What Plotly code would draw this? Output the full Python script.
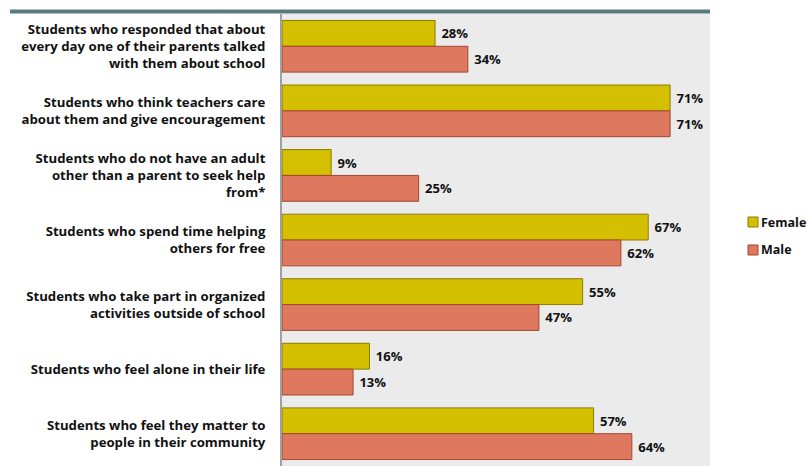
import plotly.graph_objects as go

categories = [
    "Students who responded that about<br>every day one of their parents talked<br>with them about school",
    "Students who think teachers care<br>about them and give encouragement",
    "Students who do not have an adult<br>other than a parent to seek help<br>from*",
    "Students who spend time helping<br>others for free",
    "Students who take part in organized<br>activities outside of school",
    "Students who feel alone in their life",
    "Students who feel they matter to<br>people in their community",
]
female = [28, 71, 9, 67, 55, 16, 57]
male = [34, 71, 25, 62, 47, 13, 64]
series_names = ["Female", "Male"]
fill_colors = ["#D4BF00", "#DE785E"]
edge_colors = ["#8C7D00", "#A4462F"]

FONT = "Open Sans"
W, H = 807, 466
ML, MR, MT, MB = 282, 97, 14, 0
plot_w = W - ML - MR
plot_h = H - MT - MB

fig = go.Figure()
for name, vals, fc, ec in zip(series_names, [female, male], fill_colors, edge_colors):
    fig.add_trace(go.Bar(
        name=name, y=categories, x=vals, orientation="h",
        marker=dict(color=fc, line=dict(color=ec, width=1)),
        text=[f"\u00a0{v}%" for v in vals], textposition="outside",
        textfont=dict(family=FONT, size=13, color="#111111", weight="bold"),
        cliponaxis=False, showlegend=False,
    ))

fig.update_layout(
    width=W, height=H,
    margin=dict(l=ML, r=MR, t=MT, b=MB, pad=0, autoexpand=False),
    barmode="group", bargap=0.2, bargroupgap=0,
    paper_bgcolor="white", plot_bgcolor="#EBEBEB",
    font=dict(family=FONT, size=14, color="#111111"),
    uniformtext=dict(mode=False),
)
fig.update_xaxes(range=[0, 78.3], showticklabels=False, showgrid=False,
                 zeroline=False, ticks="")
fig.update_yaxes(autorange="reversed", showgrid=False, ticks="",
                 showline=True, linecolor="#A0A0A0", linewidth=2,
                 tickfont=dict(family=FONT, size=13.2, color="#111111", weight="bold"),
                 ticklabelstandoff=12)

# header rule across the top of the figure
fig.add_shape(type="line", xref="paper", yref="paper",
              x0=(10 - ML) / plot_w, x1=1.0,
              y0=1 + 2.5 / plot_h, y1=1 + 2.5 / plot_h,
              line=dict(color="#5B7A7A", width=4))

# legend keys: small squares with bold labels to the right of the plot
for i, (name, fc, ec) in enumerate(zip(series_names, fill_colors, edge_colors)):
    cy = 222 + 28 * i
    fig.add_shape(type="rect", xref="paper", yref="paper",
                  x0=(748 - ML) / plot_w, x1=(758 - ML) / plot_w,
                  y0=(H - MB - (cy + 5)) / plot_h, y1=(H - MB - (cy - 5)) / plot_h,
                  fillcolor=fc, line=dict(color=ec, width=1))
    fig.add_annotation(xref="paper", yref="paper",
                       x=(759 - ML) / plot_w, y=(H - MB - cy) / plot_h,
                       xanchor="left", yanchor="middle", showarrow=False,
                       text=name, font=dict(family=FONT, size=12.5, color="#111111",
                                            weight="bold"))

fig.write_html("out.html")
